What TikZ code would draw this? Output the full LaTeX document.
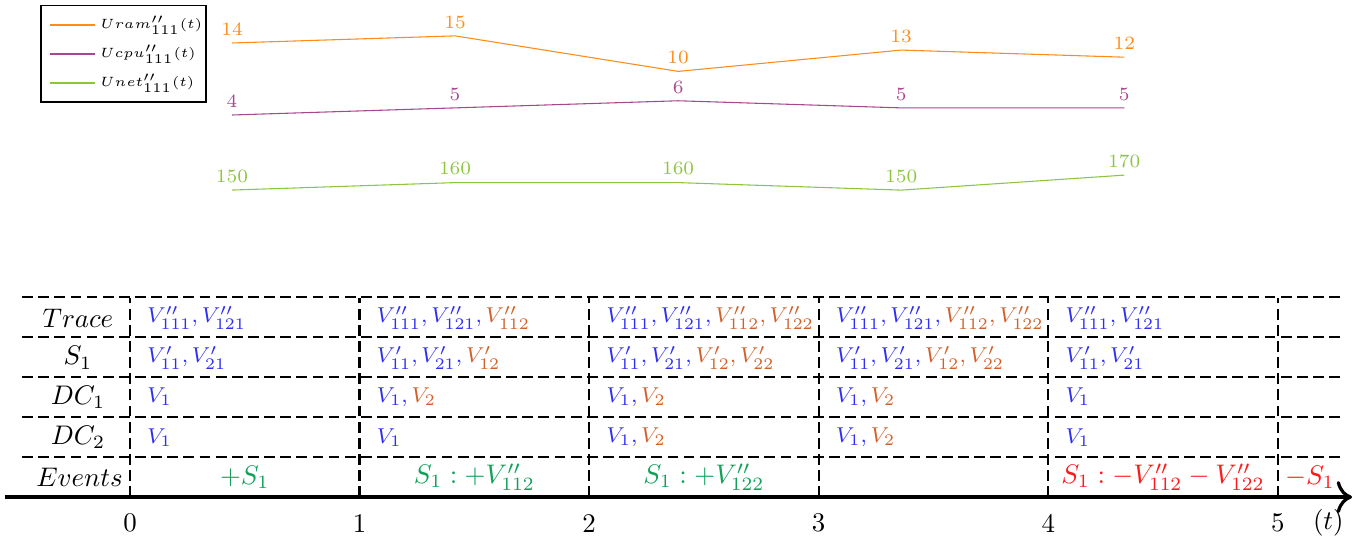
\documentclass[tikz,border=0pt]{standalone}
\usepackage{amsmath,amssymb}
\usepackage{tikz}
\usepackage{xcolor}
\usetikzlibrary{arrows.meta,positioning}
\definecolor{ramc}{HTML}{FF8C1A}
\definecolor{cpuc}{HTML}{A8468F}
\definecolor{netc}{HTML}{8CC63F}
\definecolor{vkeep}{HTML}{2E2EF5}
\definecolor{vadd}{HTML}{D2602A}
\definecolor{evadd}{HTML}{12A05A}
\definecolor{evdel}{HTML}{FF1A1A}
\newcommand{\vk}{\color{vkeep}}
\newcommand{\va}{\color{vadd}}

\begin{document}
\begin{tikzpicture}[
    grid/.style={dash pattern=on 4pt off 2pt, thick},
    rowlab/.style={anchor=center, inner sep=1pt},
    cell/.style={anchor=west, inner sep=0pt, font=\footnotesize},
    event/.style={anchor=center, inner sep=1pt},
    tick/.style={anchor=center, inner sep=1pt},
    val/.style={above, inner sep=2.5pt, font=\scriptsize},
    leg/.style={anchor=west, inner sep=0pt, font=\tiny},
    axis/.style={-{To[length=2mm]}, very thick}
  ]
    \useasboundingbox (-1.699,-0.614) rectangle (16.10,6.496);

    % time axis
    \coordinate (axstart) at (-1.634,0);
    \coordinate (axend) at (15.97,0);
    \draw[axis] (axstart) -- (axend);
    \foreach \t in {0,...,5}
      \node[tick] (t\t) at (3*\t,-0.34) {\t};
    \node[tick] (tlab) at (15.66,-0.34) {$(t)$};

    % table
    \foreach \k in {1,...,5}
      \draw[grid] (-1.41,0.523*\k) -- (15.81,0.523*\k);
    \foreach \t in {0,...,5}
      \draw[grid] (3*\t,0) -- (3*\t,2.601);

    \node[rowlab] (trace) at (-0.68,2.34) {$Trace$};
    \node[rowlab] (sone) at (-0.68,1.82) {$S_1$};
    \node[rowlab] (dcone) at (-0.68,1.31) {$DC_1$};
    \node[rowlab] (dctwo) at (-0.68,0.78) {$DC_2$};
    \node[rowlab] (events) at (-0.66,0.26) {$Events$};

    \node[cell] (tr0) at (0.22,2.34) {$\vk V''_{111}, V''_{121}$};
    \node[cell] (tr1) at (3.22,2.34) {$\vk V''_{111}, V''_{121}, \va V''_{112}$};
    \node[cell] (tr2) at (6.22,2.34) {$\vk V''_{111}, V''_{121}, \va V''_{112}, V''_{122}$};
    \node[cell] (tr3) at (9.22,2.34) {$\vk V''_{111}, V''_{121}, \va V''_{112}, V''_{122}$};
    \node[cell] (tr4) at (12.22,2.34) {$\vk V''_{111}, V''_{121}$};

    \node[cell] (s0) at (0.22,1.82) {$\vk V'_{11}, V'_{21}$};
    \node[cell] (s1) at (3.22,1.82) {$\vk V'_{11}, V'_{21}, \va V'_{12}$};
    \node[cell] (s2) at (6.22,1.82) {$\vk V'_{11}, V'_{21}, \va V'_{12}, V'_{22}$};
    \node[cell] (s3) at (9.22,1.82) {$\vk V'_{11}, V'_{21}, \va V'_{12}, V'_{22}$};
    \node[cell] (s4) at (12.22,1.82) {$\vk V'_{11}, V'_{21}$};

    \node[cell] (da0) at (0.22,1.31) {$\vk V_1$};
    \node[cell] (da1) at (3.22,1.31) {$\vk V_1, \va V_2$};
    \node[cell] (da2) at (6.22,1.31) {$\vk V_1, \va V_2$};
    \node[cell] (da3) at (9.22,1.31) {$\vk V_1, \va V_2$};
    \node[cell] (da4) at (12.22,1.31) {$\vk V_1$};

    \node[cell] (db0) at (0.22,0.78) {$\vk V_1$};
    \node[cell] (db1) at (3.22,0.78) {$\vk V_1$};
    \node[cell] (db2) at (6.22,0.78) {$\vk V_1, \va V_2$};
    \node[cell] (db3) at (9.22,0.78) {$\vk V_1, \va V_2$};
    \node[cell] (db4) at (12.22,0.78) {$\vk V_1$};

    \node[event, text=evadd] (ev0) at (1.5,0.26) {$+S_1$};
    \node[event, text=evadd] (ev1) at (4.5,0.26) {$S_1:+V''_{112}$};
    \node[event, text=evadd] (ev2) at (7.5,0.26) {$S_1:+V''_{122}$};
    \node[event, text=evdel] (ev4) at (13.5,0.26) {$S_1:-V''_{112}-V''_{122}$};
    \node[event, text=evdel] (ev5) at (15.42,0.26) {$-S_1$};

    % usage curves
    \draw[ramc] (1.333,5.934) \foreach \v [count=\i from 1] in {15,10,13,12} { -- (1.333+2.915*\i,4.635+0.0928*\v) };
    \draw[cpuc] (1.333,4.993) \foreach \v [count=\i from 1] in {5,6,5,5} { -- (1.333+2.915*\i,4.621+0.093*\v) };
    \draw[netc] (1.333,4.012) \foreach \v [count=\i from 1] in {160,160,150,170} { -- (1.333+2.915*\i,2.542+0.0098*\v) };
    \foreach \v [count=\i from 0] in {14,15,10,13,12}
      \node[val, text=ramc] (ram\i) at (1.333+2.915*\i,4.635+0.0928*\v) {\v};
    \foreach \v [count=\i from 0] in {4,5,6,5,5}
      \node[val, text=cpuc] (cpu\i) at (1.333+2.915*\i,4.621+0.093*\v) {\v};
    \foreach \v [count=\i from 0] in {150,160,160,150,170}
      \node[val, text=netc] (net\i) at (1.333+2.915*\i,2.542+0.0098*\v) {\v};

    % legend
    \draw (-1.163,5.163) rectangle (0.993,6.430);
    \draw[ramc] (-1.046,6.169) -- (-0.457,6.169);
    \draw[cpuc] (-1.046,5.790) -- (-0.457,5.790);
    \draw[netc] (-1.046,5.411) -- (-0.457,5.411);
    \node[leg] (legram) at (-0.392,6.169) {$Uram''_{111}(t)$};
    \node[leg] (legcpu) at (-0.392,5.790) {$Ucpu''_{111}(t)$};
    \node[leg] (legnet) at (-0.392,5.411) {$Unet''_{111}(t)$};
  \end{tikzpicture}
\end{document}
